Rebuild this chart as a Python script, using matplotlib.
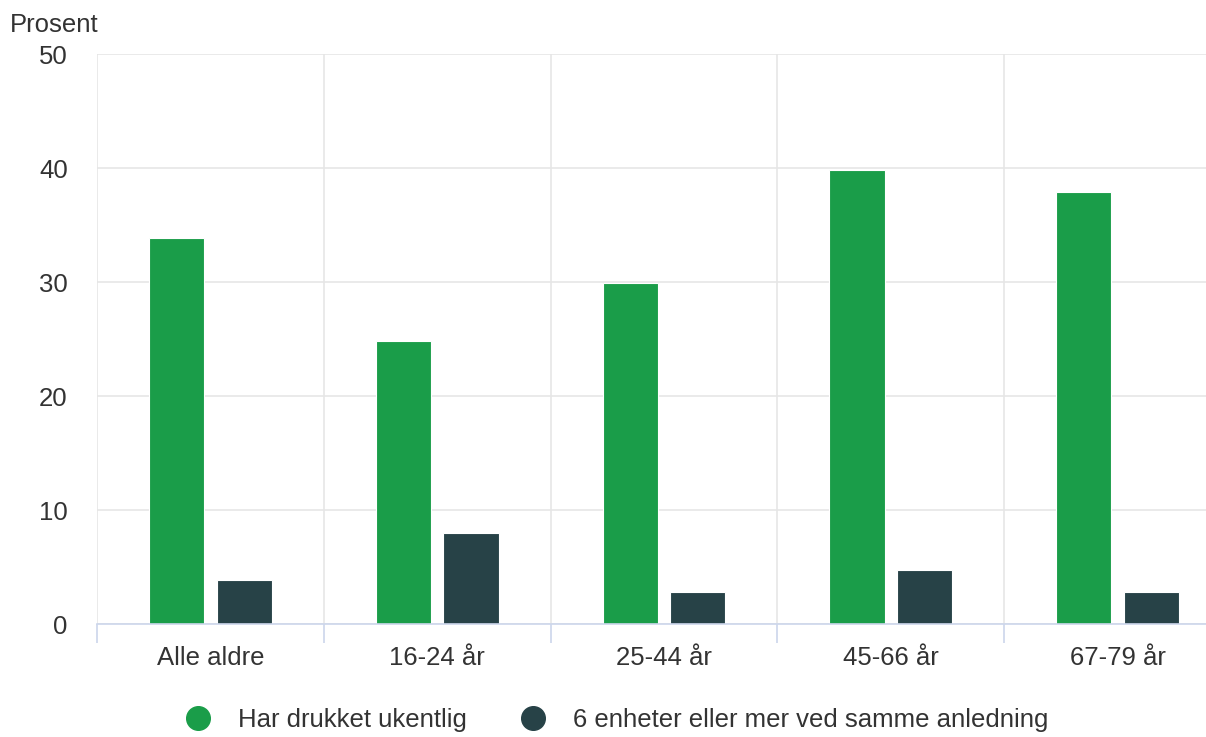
import numpy as np
from matplotlib import pyplot as plt
from matplotlib.lines import Line2D

plt.rcParams['font.family'] = ['Liberation Sans', 'DejaVu Sans']

categories = ['Alle aldre', '16-24 år', '25-44 år', '45-66 år', '67-79 år']
weekly = [33.9, 24.8, 29.9, 39.8, 37.9]
six_plus = [3.9, 8.0, 2.8, 4.7, 2.8]
series_names = ['Har drukket ukentlig', '6 enheter eller mer ved samme anledning']
yticks = [0, 10, 20, 30, 40, 50]

green = '#1a9d49'
dark = '#274247'
text_col = '#333333'
grid_col = '#e6e6e6'
axis_col = '#ccd6eb'
fs = 18.5

fig = plt.figure(figsize=(12.06, 7.37), dpi=100)
# plot area runs past the right edge of the picture (cropped in the reference)
ax = fig.add_axes([97/1206, 1 - 624/737, 1134/1206, (624 - 54)/737])

x = np.arange(len(categories))
w = 0.243
off = 0.149
ax.bar(x - off, weekly, w, color=green, edgecolor='white', linewidth=0.8, zorder=3)
ax.bar(x + off, six_plus, w, color=dark, edgecolor='white', linewidth=0.8, zorder=3)

ax.set_xlim(-0.5, len(categories) - 0.5)
ax.set_ylim(0, 50)
ax.set_yticks(yticks)
ax.set_xticks(x)
ax.set_xticklabels(categories)
ax.set_xticks(np.arange(len(categories) + 1) - 0.5, minor=True)

for s in ['top', 'right', 'left']:
    ax.spines[s].set_visible(False)
ax.spines['bottom'].set_color(axis_col)
ax.spines['bottom'].set_linewidth(1.2)
ax.spines['bottom'].set_zorder(4)

ax.grid(axis='y', color=grid_col, linewidth=1.2, zorder=0)
ax.grid(axis='x', which='minor', color=grid_col, linewidth=1.2, zorder=0)
ax.grid(axis='x', which='major', visible=False)

ax.tick_params(axis='x', which='major', length=0, pad=16, labelsize=fs, labelcolor=text_col)
ax.tick_params(axis='x', which='minor', length=14, width=1.2, color=axis_col)
ax.tick_params(axis='y', length=0, pad=21, labelsize=fs, labelcolor=text_col)

fig.text(10/1206, 1 - 25/737, 'Prosent', fontsize=fs, color=text_col, va='center', ha='left')

handles = [Line2D([], [], marker='o', linestyle='none', markersize=17, color=c) for c in (green, dark)]
fig.legend(handles, series_names, loc='center', bbox_to_anchor=(0.506, 1 - 720/737),
           ncol=2, frameon=False, fontsize=fs, labelcolor=text_col,
           handletextpad=0.55, columnspacing=1.6)

fig.savefig('out.png', dpi=100)
